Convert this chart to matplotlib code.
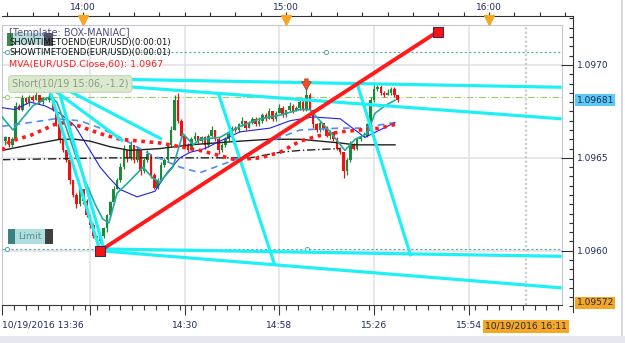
import numpy as np
import matplotlib.pyplot as plt
from matplotlib.patches import Rectangle

W, H = 625, 343

# EUR/USD 1-minute bars, x = minutes after 10/19/2016 13:36
first_open = 1.09662
closes = [1.09659, 1.09661, 1.09657, 1.09660, 1.09678, 1.09676, 1.09682, 1.09680, 1.09683, 1.09681,
          1.09684, 1.09680, 1.09682, 1.09681, 1.09683, 1.09676, 1.09668, 1.09660, 1.09654, 1.09649,
          1.09638, 1.09630, 1.09625, 1.09633, 1.09627, 1.09619, 1.09614, 1.09608, 1.09605, 1.09608,
          1.09612, 1.09619, 1.09626, 1.09633, 1.09638, 1.09645, 1.09654, 1.09650, 1.09657, 1.09649,
          1.09654, 1.09643, 1.09649, 1.09652, 1.09641, 1.09634, 1.09638, 1.09646, 1.09649, 1.09657,
          1.09665, 1.09681, 1.09670, 1.09662, 1.09657, 1.09654, 1.09660, 1.09662, 1.09659, 1.09661,
          1.09657, 1.09662, 1.09665, 1.09660, 1.09654, 1.09657, 1.09660, 1.09663, 1.09666, 1.09665,
          1.09668, 1.09670, 1.09666, 1.09669, 1.09671, 1.09668, 1.09670, 1.09673, 1.09671, 1.09675,
          1.09671, 1.09674, 1.09677, 1.09673, 1.09676, 1.09678, 1.09675, 1.09677, 1.09680, 1.09676,
          1.09684, 1.09676, 1.09668, 1.09665, 1.09669, 1.09666, 1.09662, 1.09664, 1.09660, 1.09655,
          1.09653, 1.09643, 1.09649, 1.09657, 1.09655, 1.09660, 1.09661, 1.09662, 1.09668, 1.09681,
          1.09687, 1.09688, 1.09685, 1.09684, 1.09685, 1.09687, 1.09684, 1.09681]
# wick lengths above / below the body, in 0.00001
wick_up = [1, 1, 0, 1, 2, 1, 2, 1, 1, 1,
           2, 0, 1, 1, 2, 0, 1, 0, 1, 0,
           1, 0, 1, 2, 0, 1, 0, 1, 0, 2,
           1, 1, 1, 2, 1, 2, 3, 1, 2, 0,
           2, 1, 1, 2, 0, 1, 1, 2, 1, 1,
           2, 3, 4, 1, 0, 1, 1, 2, 0, 1,
           1, 1, 2, 0, 1, 1, 1, 2, 1, 1,
           1, 2, 0, 1, 1, 1, 2, 1, 1, 2,
           0, 1, 2, 1, 0, 2, 1, 1, 2, 1,
           5, 1, 0, 1, 1, 0, 1, 1, 0, 1,
           1, 0, 1, 2, 1, 1, 1, 2, 1, 2,
           2, 1, 1, 1, 2, 1, 1, 0]
wick_dn = [1, 2, 1, 1, 1, 0, 1, 1, 2, 1,
           0, 1, 1, 0, 1, 1, 1, 2, 1, 1,
           2, 1, 2, 1, 2, 1, 2, 1, 4, 1,
           1, 2, 1, 1, 0, 1, 1, 2, 1, 2,
           1, 2, 1, 1, 2, 1, 1, 0, 1, 1,
           1, 0, 1, 2, 1, 1, 0, 1, 1, 1,
           2, 1, 1, 1, 2, 1, 1, 1, 0, 1,
           1, 1, 1, 0, 1, 1, 1, 1, 1, 0,
           1, 1, 0, 1, 1, 1, 1, 0, 1, 1,
           1, 1, 2, 1, 1, 1, 1, 2, 1, 1,
           1, 4, 2, 1, 1, 1, 1, 0, 1, 1,
           1, 1, 1, 1, 0, 1, 1, 1]

# moving averages (minutes, price)
fast_t = [0, 3.2, 9.1, 14.2, 16.2, 18.6, 21.6, 24.5, 27.5, 29.8, 31.6, 34.0, 36.9, 41.7, 44.6, 46.7, 50.5,
          53.5, 56.5, 58.5, 64.4, 70.4, 76.3, 82.2, 88.1, 91.1, 94.0, 97.0, 101.4, 104.4, 107.9, 110.3, 113.2, 116.2]
fast_p = [1.09672, 1.09665, 1.09678, 1.09683, 1.09680, 1.09668, 1.09652, 1.09638, 1.09625, 1.09617, 1.09615,
          1.09631, 1.09636, 1.09645, 1.09639, 1.09637, 1.09645, 1.09663, 1.09657, 1.09660, 1.09661, 1.09667,
          1.09671, 1.09673, 1.09676, 1.09676, 1.09670, 1.09664, 1.09654, 1.09660, 1.09663, 1.09674, 1.09678, 1.09681]
blue_t = [0, 3.8, 8.3, 12.7, 17.1, 21.6, 26.0, 29.0, 31.3, 34.9, 39.9, 45.2, 48.8, 52.6, 55.6, 60.0,
          64.4, 70.4, 79.2, 85.2, 92.0, 100.0, 107.3, 116.2]
blue_p = [1.09677, 1.09676, 1.09680, 1.09678, 1.09674, 1.09667, 1.09654, 1.09645, 1.09640, 1.09633, 1.09629,
          1.09632, 1.09642, 1.09650, 1.09653, 1.09655, 1.09659, 1.09664, 1.09666, 1.09670, 1.09672, 1.09671,
          1.09661, 1.09669]
bdash_t = [0, 8.3, 15.6, 23.0, 29.0, 34.9, 43.7, 52.6, 58.5, 70.4, 82.2, 88.1, 100.0, 105.9, 116.2]
bdash_p = [1.09667, 1.09669, 1.09671, 1.09670, 1.09666, 1.09661, 1.09652, 1.09645, 1.09642, 1.09650,
           1.09661, 1.09665, 1.09666, 1.09666, 1.09669]
mva60_t = [0, 2.3, 8.3, 15.6, 18.6, 23.0, 29.0, 34.9, 46.7, 58.5, 68.9, 76.3, 82.2, 88.1, 94.0, 100.0,
           105.9, 111.8, 116.2]
mva60_p = [1.09654, 1.09659, 1.09662, 1.09668, 1.09669, 1.09667, 1.09663, 1.09660, 1.09658, 1.09654,
           1.09649, 1.09650, 1.09653, 1.09659, 1.09662, 1.09664, 1.09665, 1.09666, 1.09668]
black_t = [0, 8.3, 17.1, 21.6, 26.0, 31.9, 37.8, 46.7, 55.6, 70.4, 79.2, 88.1, 100.0, 104.4, 116.2]
black_p = [1.09654, 1.09657, 1.09660, 1.09660, 1.09659, 1.09656, 1.09654, 1.09655, 1.09657, 1.09659,
           1.09660, 1.09660, 1.09658, 1.09657, 1.09657]
bdd_t = [0, 31.9, 58.5, 73.3, 82.2, 88.1, 100.0]
bdd_p = [1.09649, 1.09650, 1.09650, 1.09650, 1.09653, 1.09654, 1.09655]

# hand drawn trend lines (t0, p0, t1, p1)
cyan_lines = [(12.7, 1.09693, 165.5, 1.09688),
              (17.1, 1.09691, 165.5, 1.09671),
              (13.6, 1.09689, 29.0, 1.09600),
              (16.5, 1.09688, 30.1, 1.09601),
              (14.2, 1.09688, 35.8, 1.09659),
              (17.7, 1.09688, 47.3, 1.09660),
              (63.9, 1.09685, 80.7, 1.09592),
              (105.0, 1.09690, 120.9, 1.09597),
              (29.0, 1.09601, 165.5, 1.09597),
              (29.0, 1.09600, 165.5, 1.09580)]
red_t = [29.0, 128.9]
red_p = [1.09600, 1.09718]

short_t, short_p = 90, 1.09685
now_t = 155
last_price = 1.09681
low_price = 1.09572
level_top, level_bot, level_short = 1.09707, 1.09601, 1.09683

bottom_ticks = [0, 26, 54, 82, 110, 138]
bottom_labels = ['10/19/2016 13:36', '', '14:30', '14:58', '15:26', '15:54']
top_ticks = [24, 84, 144]
top_labels = ['14:00', '15:00', '16:00']
price_ticks = [1.0960, 1.0965, 1.0970]

TXT = '#1e2a5a'

def box(x0, y0, x1, y1):
    return [x0 / W, 1 - y1 / H, (x1 - x0) / W, (y1 - y0) / H]

def prect(x0, y0, x1, y1, color, z=3):
    fig.add_artist(Rectangle((x0 / W, 1 - y1 / H), (x1 - x0) / W, (y1 - y0) / H,
                             transform=fig.transFigure, fc=color, ec='none', zorder=z))

fig = plt.figure(figsize=(W / 100, H / 100), dpi=100)
fig.patch.set_facecolor('white')

ax = fig.add_axes(box(2.1, 25, 561.7, 305))
ax.set_xlim(0, 165.5)
ax.set_ylim(1.095708, 1.097215)
for s in ['left', 'top', 'right']:
    ax.spines[s].set_color('#c4c8d4')
ax.spines['bottom'].set_color('#3a3a3a')
ax.tick_params(axis='y', left=False, labelleft=False)
ax.set_xticks(bottom_ticks)
ax.set_xticklabels(bottom_labels)
ax.set_xticks(np.arange(0, 166, 3.5), minor=True)
ax.tick_params(axis='x', which='major', length=7.2, width=0.8, color='#3a3a3a',
               labelsize=6.6, labelcolor=TXT, pad=4)
ax.tick_params(axis='x', which='minor', length=3.6, width=0.8, color='#3a3a3a')
ax.get_xticklabels()[0].set_ha('left')

for t in bottom_ticks[1:]:
    ax.axvline(t, color='#e2e2e8', lw=1.2, zorder=0)
for p in price_ticks:
    ax.axhline(p, color='#e2e2e8', lw=1.2, zorder=0)
ax.axvline(now_t, color='#cccccc', ls=(0, (1, 1)), lw=1.6, zorder=0.5)

# dotted levels
ax.axhline(level_top, color='#5aa8a8', ls=(0, (2, 2)), lw=0.8, zorder=1)
ax.axhline(level_bot, color='#5aa8a8', ls=(0, (2, 2)), lw=0.8, zorder=1)
ax.axhline(level_short, color='#9ccc6a', ls=(0, (6, 2, 1, 2)), lw=0.8, zorder=1)
ax.plot([1.45, 95.8], [level_top] * 2, 'o', ms=3, mfc='white', mec='#5aa8a8', mew=0.7, zorder=1)
ax.plot([1.45, 90.1], [level_bot] * 2, 'o', ms=3, mfc='white', mec='#5aa8a8', mew=0.7, zorder=1)
ax.plot([1.45], [level_short], 'o', ms=3, mfc='white', mec='#9ccc6a', mew=0.7, zorder=1)

# candles
t = np.arange(len(closes))
c = np.array(closes)
o = np.r_[first_open, c[:-1]]
hi = np.maximum(o, c) + np.array(wick_up) * 1e-5
lo = np.minimum(o, c) - np.array(wick_dn) * 1e-5
cols = np.where(c >= o, '#1b8a3a', '#ee1111')
ax.vlines(t, lo, hi, colors=cols, lw=0.9, zorder=2)
ax.bar(t, np.maximum(np.abs(c - o), 0.000004), bottom=np.minimum(o, c), width=0.75,
       color=cols, linewidth=0, zorder=2.1)

# indicators
ax.plot(black_t, black_p, color='#202020', lw=1.0, zorder=2.5)
ax.plot(bdd_t, bdd_p, color='#202020', lw=1.0, ls=(0, (6, 2, 1, 2)), zorder=2.5)
ax.plot(bdash_t, bdash_p, color='#4d8ff0', lw=1.2, ls=(0, (4, 3)), zorder=2.6)
ax.plot(blue_t, blue_p, color='#2020e0', lw=0.8, zorder=2.7)
ax.plot(mva60_t, mva60_p, color='#ff1a1a', lw=2.6, ls=(0, (1, 1.3)), zorder=2.8)
ax.plot(fast_t, fast_p, color='#22aaa0', lw=1.2, zorder=2.9)

for t0, p0, t1, p1 in cyan_lines:
    ax.plot([t0, t1], [p0, p1], color='#1ff0f5', lw=2.3, solid_capstyle='butt', zorder=4)

ax.plot(red_t, red_p, color='#ff1a1a', lw=2.8, zorder=5)
ax.plot(red_t, red_p, 's', ms=6.5, mfc='#ff1010', mec='#3a2a5a', mew=0.8, zorder=6, clip_on=False)

ax.annotate('', xy=(short_t, short_p), xytext=(short_t, short_p + 0.00009),
            arrowprops=dict(arrowstyle='simple,head_width=0.7,head_length=0.6,tail_width=0.25',
                            fc='#f0502a', ec='#b03010', lw=0.5), zorder=6)

ax.annotate('10/19/2016 16:11', xy=(now_t, 0), xycoords=('data', 'axes fraction'),
            xytext=(0, -15.3), textcoords='offset points', ha='center', va='center',
            fontsize=6.6, color=TXT,
            bbox=dict(boxstyle='square,pad=0.2', fc='#f5a623', ec='none'))

# right price scale
rax = fig.add_axes(box(561.7, 16, 573, 312))
rax.set_facecolor('none')
ppx = (1.097215 - 1.095708) / 280
rax.set_ylim(1.095708 - 7 * ppx, 1.097215 + 9 * ppx)
rax.set_xticks([])
for s in ['left', 'top', 'bottom']:
    rax.spines[s].set_visible(False)
rax.spines['right'].set_color('#303030')
rax.yaxis.tick_right()
rax.set_yticks(price_ticks)
rax.set_yticklabels(['%.4f' % p for p in price_ticks])
rax.set_yticks(np.arange(1.09570, 1.09726, 0.00005), minor=True)
rax.tick_params(axis='y', which='major', direction='in', length=8.4, width=0.8,
                labelsize=6.5, labelcolor=TXT, pad=3, color='#303030')
rax.tick_params(axis='y', which='minor', direction='in', length=3, width=0.8, color='#303030')
for p, fc in [(last_price, '#5ccaf5'), (low_price, '#f5a623')]:
    rax.annotate('%.5f' % p, xy=(1, p), xycoords=('axes fraction', 'data'), xytext=(2.5, 0),
                 textcoords='offset points', ha='left', va='center', fontsize=6.5, color=TXT,
                 bbox=dict(boxstyle='square,pad=0.15', fc=fc, ec='none'))

# top time strip
tax = fig.add_axes(box(2.1, 0, 573, 16))
tax.set_facecolor('none')
ppm = (561.7 - 2.1) / 165.5
tax.set_xlim(0, (573 - 2.1) / ppm)
tax.set_ylim(0, 1)
for s in ['left', 'top', 'right']:
    tax.spines[s].set_visible(False)
tax.spines['bottom'].set_color('#303030')
tax.set_yticks([])
tax.set_xticks(np.arange(1.5, 170, 7.5))
tax.tick_params(axis='x', direction='in', length=3, width=0.8, labelbottom=False, color='#303030')
for tt, lab in zip(top_ticks, top_labels):
    tax.text(tt, 0.52, lab, ha='center', va='center', fontsize=6.5, color=TXT)
tax.plot(top_ticks, [-0.26] * len(top_ticks), 'v', ms=6.5, color='#f5a623', clip_on=False, zorder=5)

# overlay labels
prect(7, 33, 13, 46, '#3e8a4a')
prect(13, 33, 44, 45, '#b8dcdc')
prect(44, 33, 53, 46, '#505060')
fig.text(9 / W, 1 - 32.5 / H, '[Template: BOX-MANIAC]', fontsize=7, color='#505080', va='center', zorder=4)
fig.text(9 / W, 1 - 42.7 / H, 'SHOWTIMETOEND(EUR/USD)(0:00:01)', fontsize=6.1, color='#101010', va='center', zorder=4)
fig.text(9 / W, 1 - 52.7 / H, 'SHOWTIMETOEND(EUR/USD)(0:00:01)', fontsize=6.1, color='#101010', va='center', zorder=4)
fig.text(9 / W, 1 - 64 / H, 'MVA(EUR/USD.Close,60): 1.0967', fontsize=6.8, color='#ff2020', va='center', zorder=4)
fig.text(12 / W, 1 - 84 / H, 'Short(10/19 15:06, -1.2)', fontsize=6.9, color='#8c9c84', va='center', zorder=4,
         bbox=dict(boxstyle='round,pad=0.35', fc='#dbe9cf', ec='#c4d8b4', lw=0.8))

prect(8, 229, 15, 244, '#3d8080')
prect(15, 229, 45, 244, '#b0dede')
prect(45, 229, 53, 244, '#404040')
fig.text(30 / W, 1 - 236.5 / H, 'Limit', fontsize=6.8, color='#5a8e8e', ha='center', va='center', zorder=4)

# window frame bits
prect(0, 336, W, H, '#e6e6ee', z=0.5)
prect(621, 0, 622.5, 336, '#d8d8e0', z=0.5)

fig.savefig('out.png', dpi=100)
